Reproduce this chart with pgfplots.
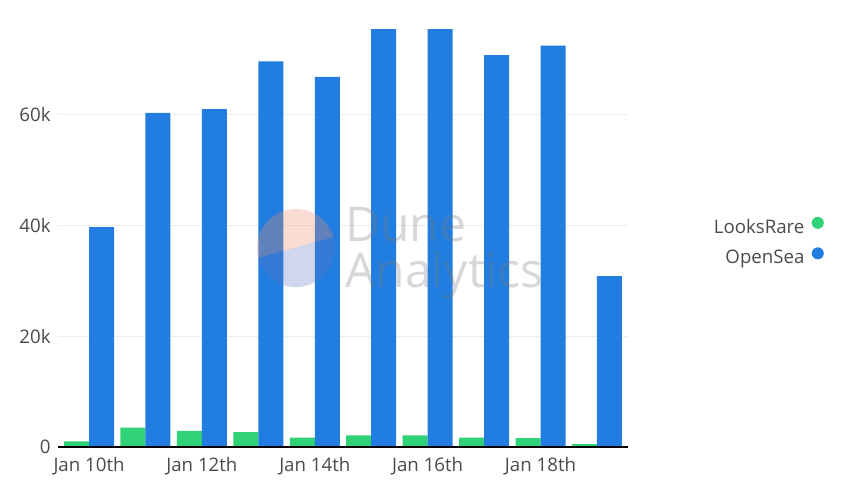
\documentclass[border=0pt]{standalone}
\usepackage{fontspec}
\setmainfont{Open Sans}
\newfontfamily\wmfont{Open Sans}
\usepackage{pgfplots}
\pgfplotsset{compat=1.18}
\definecolor{lrgreen}{HTML}{2FD274}
\definecolor{osblue}{HTML}{217EE0}
\definecolor{txt}{HTML}{4A4A4A}
\definecolor{wmpeach}{RGB}{242,138,108}
\definecolor{wmblue}{RGB}{98,118,192}
\definecolor{wmgray}{RGB}{122,122,122}
\begin{document}
\begin{tikzpicture}[x=0.75pt,y=0.75pt]
\path[use as bounding box] (0,0) rectangle (842,482);
\begin{axis}[
  at={(43.5pt,26.25pt)}, anchor=south west,
  scale only axis, width=427.5pt, height=333pt,
  ybar=0pt, bar width=18.75pt,
  xmin=-0.55, xmax=9.55, ymin=0, ymax=80000,
  xtick={0,2,4,6,8},
  xticklabels={Jan 10th,Jan 12th,Jan 14th,Jan 16th,Jan 18th},
  ytick={20000,40000,60000}, yticklabels={20k,40k,60k},
  extra y ticks={0}, extra y tick labels={0},
  extra y tick style={grid=none},
  scaled y ticks=false,
  ymajorgrids, grid style={draw=black!7, line width=0.75pt},
  axis line style={draw=none}, major tick length=0pt,
  tick label style={font=\fontsize{14}{16}\selectfont, text=txt},
  xticklabel style={yshift=-4pt},
  yticklabel style={xshift=-2pt},
  legend style={at={(1.351,0.461)}, anchor=east, draw=none, fill=none,
    font=\fontsize{14}{16}\selectfont, text=txt, row sep=7pt},
  legend cell align=right, legend plot pos=right,
]
\addplot[fill=lrgreen, draw=none,
  legend image code/.code={\path (0pt,0.33em) -- (12.5pt,0.33em); \fill[lrgreen] (8pt,0.33em) circle (4.5pt);}]
  coordinates {(0,1000) (1,3500) (2,2900) (3,2700) (4,1700) (5,2100) (6,2100) (7,1700) (8,1600) (9,500)};
\addplot[fill=osblue, draw=none,
  legend image code/.code={\path (0pt,0.33em) -- (12.5pt,0.33em); \fill[osblue] (8pt,0.33em) circle (4.5pt);}]
  coordinates {(0,39600) (1,60200) (2,60900) (3,69500) (4,66700) (5,75300) (6,75300) (7,70600) (8,72300) (9,30800)};
\legend{LooksRare,OpenSea}
\draw[black, line width=1.5pt] (axis cs:-0.55,0) -- (axis cs:9.55,0);
\end{axis}
% watermark
\begin{scope}
\clip (296,234) circle (39);
\fill[wmpeach, opacity=0.3] (250,222) -- (345,248) -- (345,290) -- (250,290) -- cycle;
\fill[wmblue, opacity=0.3] (250,222) -- (345,248) -- (345,180) -- (250,180) -- cycle;
\end{scope}
\node[anchor=base west, inner sep=0pt, text=wmgray, opacity=0.3, font=\wmfont\fontsize{36}{40}\selectfont] at (345,240) {Dune};
\node[anchor=base west, inner sep=0pt, text=wmgray, opacity=0.3, font=\wmfont\fontsize{36}{40}\selectfont] at (345,194) {Analytics};
\end{tikzpicture}
\end{document}
